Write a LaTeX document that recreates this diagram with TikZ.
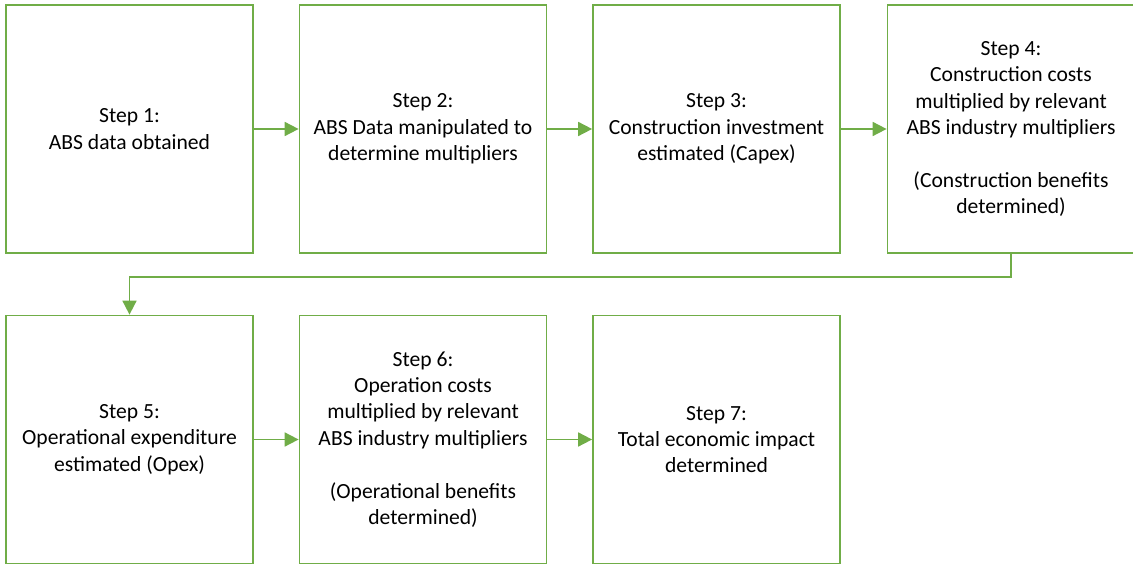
\documentclass[tikz,border=0pt]{standalone}
\usepackage{fontspec}
\setmainfont{Carlito}
\usetikzlibrary{arrows.meta}
\definecolor{grn}{HTML}{70AD47}
\tikzset{
  stepbox/.style={draw=grn, line width=1.3pt, minimum width=185.25pt, minimum height=186pt,
    inner sep=0pt, align=center, font=\fontsize{16.2}{19.8}\selectfont, text=black},
  conn/.style={draw=grn, line width=1.3pt, -{Triangle[length=10.5pt,width=10.5pt]}},
}
\begin{document}
\begin{tikzpicture}[x=0.75pt,y=-0.75pt]
\useasboundingbox (0,0) rectangle (1133,566);
\node[stepbox] (b1) at (129.5,129) {Step 1:\\ABS data obtained};
\node[stepbox] (b2) at (423,129) {Step 2:\\ABS Data manipulated to\\determine multipliers};
\node[stepbox] (b3) at (716.5,129) {Step 3:\\Construction investment\\estimated (Capex)};
\node[stepbox] (b4) at (1011,129) {Step 4:\\Construction costs\\multiplied by relevant\\ABS industry multipliers\\[19.8pt](Construction benefits\\determined)};
\node[stepbox] (b5) at (129.5,439.5) {Step 5:\\Operational expenditure\\estimated (Opex)};
\node[stepbox] (b6) at (423,439.5) {Step 6:\\Operation costs\\multiplied by relevant\\ABS industry multipliers\\[19.8pt](Operational benefits\\determined)};
\node[stepbox] (b7) at (716.5,439.5) {Step 7:\\Total economic impact\\determined};
\coordinate (turn) at (129.5,277);
\draw[conn] (b1) -- (b2);
\draw[conn] (b2) -- (b3);
\draw[conn] (b3) -- (b4);
\draw[conn] (b4.south) |- (turn) -- (b5.north);
\draw[conn] (b5) -- (b6);
\draw[conn] (b6) -- (b7);
\end{tikzpicture}
\end{document}
